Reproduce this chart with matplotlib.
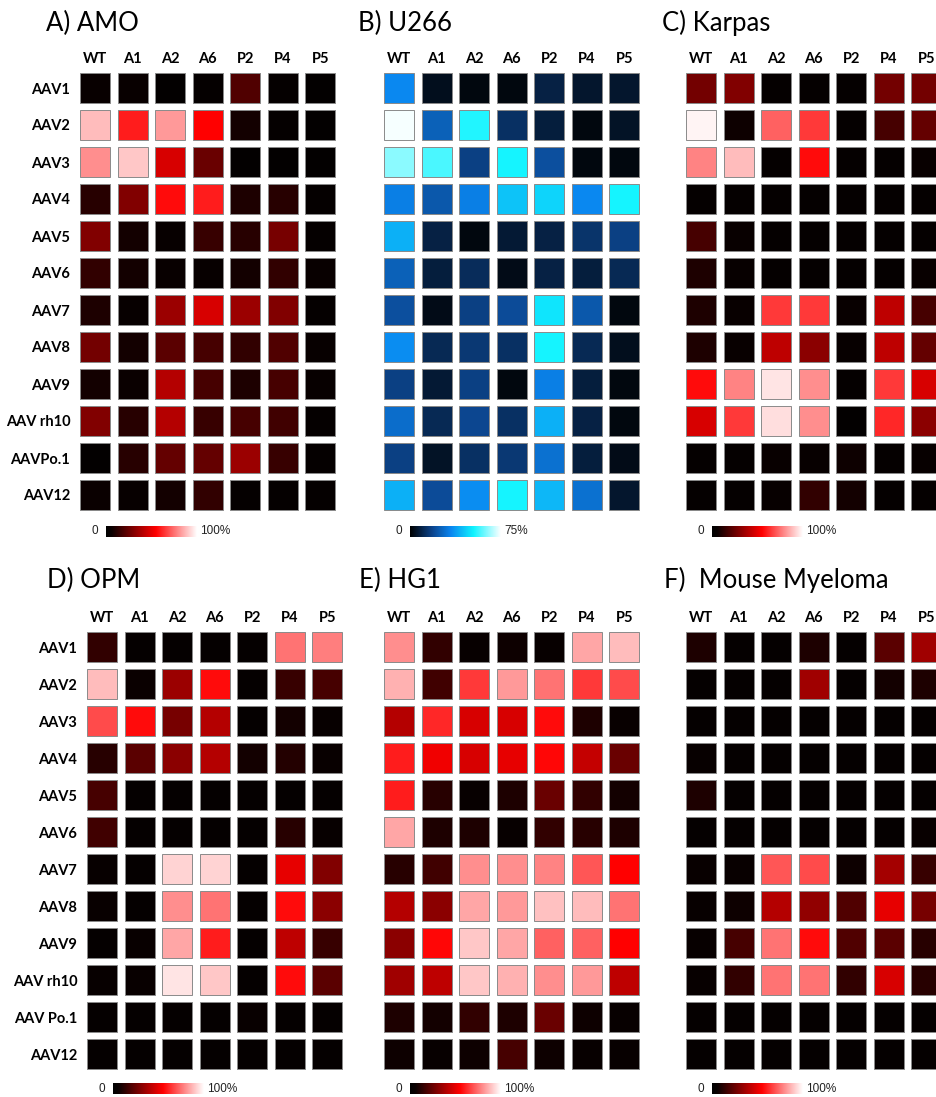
import numpy as np
import matplotlib
matplotlib.use("Agg")
import matplotlib.pyplot as plt
from matplotlib.colors import LinearSegmentedColormap, Normalize
from matplotlib.patches import Rectangle

# ---------------------------------------------------------------- data
columns = ["WT", "A1", "A2", "A6", "P2", "P4", "P5"]
rows_top = ["AAV1", "AAV2", "AAV3", "AAV4", "AAV5", "AAV6", "AAV7",
            "AAV8", "AAV9", "AAV rh10", "AAVPo.1", "AAV12"]
rows_bottom = ["AAV1", "AAV2", "AAV3", "AAV4", "AAV5", "AAV6", "AAV7",
               "AAV8", "AAV9", "AAV rh10", "AAV Po.1", "AAV12"]

# transduction, % of cells
amo = [
    [5, 5, 2, 3, 20, 3, 2],
    [88, 60, 82, 55, 8, 3, 2],
    [80, 90, 47, 25, 2, 2, 2],
    [12, 30, 57, 60, 10, 12, 3],
    [30, 8, 4, 15, 12, 28, 3],
    [14, 8, 5, 4, 8, 14, 5],
    [10, 4, 35, 47, 35, 30, 3],
    [27, 8, 22, 18, 14, 20, 4],
    [8, 6, 40, 18, 10, 18, 4],
    [30, 12, 40, 15, 18, 17, 3],
    [2, 12, 24, 24, 35, 15, 3],
    [6, 4, 8, 14, 3, 3, 3],
]
u266 = [
    [34, 4, 2, 2, 9, 6, 6],
    [74, 25, 54, 13, 8, 2, 5],
    [64, 58, 17, 53, 21, 2, 2],
    [32, 23, 32, 44, 47, 34, 53],
    [41, 9, 2, 7, 9, 14, 17],
    [25, 8, 12, 3, 9, 8, 11],
    [21, 3, 17, 20, 50, 23, 2],
    [35, 11, 15, 13, 53, 11, 4],
    [17, 7, 17, 2, 32, 8, 2],
    [28, 11, 19, 13, 41, 9, 2],
    [17, 5, 13, 15, 29, 8, 3],
    [41, 20, 35, 53, 42, 29, 6],
]
karpas = [
    [27, 30, 3, 3, 3, 27, 27],
    [98, 7, 72, 65, 3, 18, 24],
    [78, 88, 3, 57, 3, 3, 5],
    [3, 3, 3, 3, 3, 3, 3],
    [18, 5, 3, 3, 3, 3, 3],
    [10, 4, 3, 3, 3, 3, 5],
    [10, 5, 65, 65, 5, 42, 18],
    [10, 5, 42, 32, 4, 42, 24],
    [57, 78, 95, 80, 3, 65, 47],
    [47, 65, 94, 80, 2, 62, 32],
    [3, 3, 5, 4, 7, 3, 4],
    [3, 3, 4, 14, 8, 3, 3],
]
opm = [
    [14, 3, 3, 3, 3, 75, 77],
    [88, 6, 35, 57, 3, 15, 18],
    [68, 57, 28, 40, 3, 8, 4],
    [12, 22, 32, 40, 8, 11, 5],
    [18, 3, 3, 3, 3, 3, 3],
    [17, 3, 3, 3, 3, 12, 4],
    [4, 3, 92, 92, 3, 50, 30],
    [5, 3, 80, 75, 3, 57, 32],
    [3, 5, 84, 60, 3, 42, 15],
    [4, 5, 95, 90, 3, 57, 22],
    [3, 3, 3, 3, 5, 3, 3],
    [3, 3, 3, 3, 3, 3, 3],
]
hg1 = [
    [80, 14, 4, 7, 4, 84, 88],
    [86, 17, 65, 82, 75, 65, 68],
    [40, 62, 47, 47, 57, 10, 5],
    [60, 52, 47, 50, 56, 43, 25],
    [60, 12, 4, 10, 25, 14, 8],
    [84, 10, 10, 4, 14, 12, 10],
    [12, 17, 80, 80, 78, 70, 55],
    [40, 32, 84, 82, 89, 88, 75],
    [32, 56, 90, 84, 72, 72, 55],
    [36, 42, 90, 86, 80, 82, 42],
    [10, 8, 14, 10, 25, 7, 4],
    [7, 4, 7, 18, 7, 4, 4],
]
mouse = [
    [10, 3, 3, 10, 3, 22, 36],
    [3, 3, 3, 36, 3, 8, 10],
    [3, 3, 3, 3, 3, 3, 3],
    [4, 3, 3, 3, 3, 3, 3],
    [10, 3, 3, 3, 3, 3, 3],
    [3, 3, 3, 3, 3, 3, 5],
    [5, 5, 70, 68, 7, 37, 15],
    [4, 7, 40, 33, 20, 50, 28],
    [4, 18, 75, 57, 20, 22, 12],
    [4, 14, 75, 75, 14, 47, 12],
    [3, 3, 3, 3, 3, 3, 3],
    [3, 3, 3, 3, 3, 3, 3],
]

# ---------------------------------------------------------------- styling
red_map = LinearSegmentedColormap.from_list(
    "blackredwhite",
    [(0.0, "#000000"), (0.06, "#0a0000"), (0.55, "#ff0000"), (1.0, "#ffffff")])
blue_map = LinearSegmentedColormap.from_list(
    "blackbluewhite",
    [(0.0, "#000000"), (0.25, "#0c4690"), (0.45, "#0a86f0"),
     (0.7, "#10f4ff"), (1.0, "#ffffff")])

W, H = 936, 1097
fig = plt.figure(figsize=(W / 100, H / 100), dpi=100)
fig.patch.set_facecolor("white")

LABEL_FONT = ["Lato", "DejaVu Sans"]
BAR_FONT = ["Liberation Sans", "DejaVu Sans"]


def px_axes(x0, y0, x1, y1):
    """Axes placed by pixel box (origin at the top-left of the figure)."""
    return fig.add_axes([x0 / W, 1 - y1 / H, (x1 - x0) / W, (y1 - y0) / H])


def heat_panel(x0, y0, values, cmap, vmax, row_labels=None):
    vals = np.asarray(values, dtype=float)
    nr, nc = vals.shape
    pitch_x, pitch_y = 37.5, 37.0
    ax = px_axes(x0, y0, x0 + nc * pitch_x, y0 + nr * pitch_y)
    norm = Normalize(0, vmax)
    g = 0.1
    for i in range(nr):
        for j in range(nc):
            ax.add_patch(Rectangle((j - 0.5 + g, i - 0.5 + g), 1 - 2 * g, 1 - 2 * g,
                                   facecolor=cmap(norm(vals[i, j])),
                                   edgecolor="#8a8a8a", linewidth=0.7))
    ax.set_xlim(-0.5, nc - 0.5)
    ax.set_ylim(nr - 0.5, -0.5)
    for s in ax.spines.values():
        s.set_visible(False)
    ax.xaxis.tick_top()
    ax.set_xticks(range(nc))
    ax.set_xticklabels(columns, fontfamily=LABEL_FONT, fontweight="bold",
                       fontsize=10.5)
    ax.tick_params(axis="x", length=0, pad=2.5)
    if row_labels is not None:
        ax.set_yticks(range(nr))
        ax.set_yticklabels(row_labels, fontfamily=LABEL_FONT, fontweight="bold",
                           fontsize=10.5)
        ax.tick_params(axis="y", length=0, pad=4.5)
    else:
        ax.set_yticks([])
    return ax


def colour_bar(x0, y0, cmap, top_label):
    ax = px_axes(x0, y0, x0 + 91, y0 + 11)
    ax.imshow(np.linspace(0, 1, 256)[None, :], cmap=cmap, aspect="auto",
              extent=(0, 1, 0, 1))
    ax.set_axis_off()
    yc = 1 - (y0 + 5.5) / H
    fig.text((x0 - 8) / W, yc, "0", ha="right", va="center",
             fontfamily=BAR_FONT, fontsize=8.5, color="#222222")
    fig.text((x0 + 94) / W, yc, top_label, ha="left", va="center",
             fontfamily=BAR_FONT, fontsize=8.5, color="#222222")


def title(x, y, text):
    fig.text(x / W, 1 - y / H, text, ha="left", va="center",
             fontfamily=LABEL_FONT, fontsize=18.5)


# top row
heat_panel(76.5, 69.5, amo, red_map, 100, rows_top)
heat_panel(380.5, 69.5, u266, blue_map, 75)
heat_panel(682.5, 69.5, karpas, red_map, 100)
colour_bar(106, 526, red_map, "100%")
colour_bar(410, 526, blue_map, "75%")
colour_bar(712, 526, red_map, "100%")
title(46, 23, "A) AMO")
title(358, 23, "B) U266")
title(662, 23, "C) Karpas")

# bottom row
heat_panel(83.5, 628.5, opm, red_map, 100, rows_bottom)
heat_panel(380.5, 628.5, hg1, red_map, 100)
heat_panel(682.5, 628.5, mouse, red_map, 100)
colour_bar(113, 1083, red_map, "100%")
colour_bar(410, 1083, red_map, "100%")
colour_bar(712, 1083, red_map, "100%")
title(47, 580, "D) OPM")
title(359, 580, "E) HG1")
title(664, 580, "F)  Mouse Myeloma")

fig.savefig("out.png", dpi=100)
